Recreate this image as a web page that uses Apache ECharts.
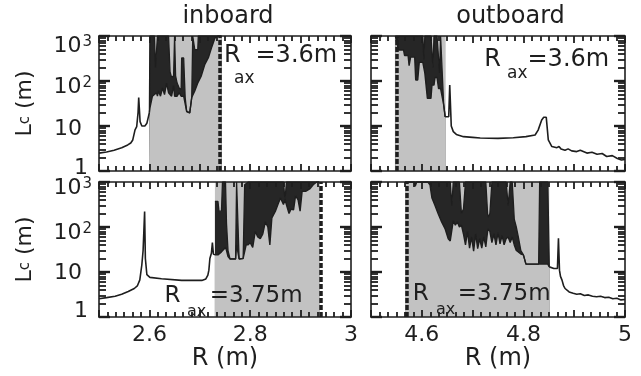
<!DOCTYPE html>
<html>
<head>
<meta charset="utf-8">
<script src="https://cdn.jsdelivr.net/npm/echarts@6/dist/echarts.min.js"></script>
<style>
  html, body { margin: 0; padding: 0; background: #fff; }
  #chart { width: 641px; height: 376px; }
</style>
</head>
<body>
<div id="chart"></div>
<script>
// connection length Lc (m) against major radius R (m)

// inboard, Rax = 3.6 m
const inTopR = [2.500, 2.515, 2.530, 2.545, 2.557, 2.563, 2.567, 2.5715, 2.5748, 2.5775, 2.5788, 2.5800, 2.5815, 2.585, 2.591, 2.595, 2.598, 2.600];
const inTopLc = [2.5, 2.65, 2.9, 3.3, 3.8, 4.2, 4.9, 8.2, 9.7, 20, 43, 25, 12.5, 10, 10, 11.5, 16, 20];
const inTopStochR = [2.600, 2.601, 2.606, 2.610, 2.612, 2.614, 2.616, 2.618, 2.622, 2.626, 2.630, 2.634, 2.638, 2.641, 2.644, 2.648, 2.650, 2.652, 2.655, 2.659, 2.663, 2.664, 2.668, 2.671, 2.674, 2.680, 2.684, 2.686, 2.690, 2.696, 2.697, 2.703, 2.710, 2.717, 2.724, 2.730, 2.736, 2.743];
const inTopStochMax = [20, 1000, 1000, 1000, 200, 200, 1000, 1000, 1000, 1000, 1000, 1000, 1000, 160, 120, 130, 1000, 130, 90, 70, 64, 325, 325, 43, 21, 19.5, 43, 1000, 500, 500, 1000, 1000, 1000, 1000, 1000, 1000, 1000, 1000];
const inTopStochMin = [20, 25, 46, 50, 46, 55, 46, 60, 46, 70, 50, 90, 55, 60, 46, 80, 46, 50, 46, 55, 46, 46, 46, 43, 21, 19.5, 43, 45, 60, 90, 94, 130, 235, 330, 580, 900, 1000, 1000];

// outboard, Rax = 3.6 m
const outTopStochR = [4.548, 4.554, 4.564, 4.566, 4.573, 4.575, 4.578, 4.580, 4.586, 4.588, 4.592, 4.595, 4.597, 4.602, 4.604, 4.606, 4.609, 4.611, 4.618, 4.620, 4.622, 4.624, 4.626, 4.630, 4.633, 4.635, 4.637, 4.640, 4.643, 4.646];
const outTopStochMax = [1000, 1000, 1000, 1000, 1000, 1000, 1000, 1000, 1000, 1000, 1000, 1000, 1000, 1000, 300, 1000, 1000, 1000, 1000, 1000, 200, 1000, 1000, 1000, 1000, 150, 1000, 1000, 30, 16];
const outTopStochMin = [1000, 490, 490, 370, 370, 220, 340, 340, 340, 105, 105, 260, 260, 260, 260, 150, 150, 41, 41, 81, 81, 81, 120, 120, 68, 68, 68, 68, 30, 16];
const outTopR = [4.646, 4.653, 4.655, 4.658, 4.662, 4.668, 4.682, 4.700, 4.715, 4.750, 4.780, 4.805, 4.823, 4.829, 4.836, 4.840, 4.845, 4.849, 4.856, 4.866, 4.870, 4.874, 4.882, 4.888, 4.895, 4.905, 4.912, 4.925, 4.935, 4.945, 4.955, 4.964, 4.975, 4.985, 4.993, 5.000];
const outTopLc = [16, 16, 81, 10, 7.5, 6.5, 5.8, 5.6, 5.4, 5.3, 5.5, 5.8, 6.3, 8.1, 13.6, 15.6, 15.6, 4.9, 3.5, 3.3, 3.5, 3.1, 2.9, 3.1, 2.8, 2.7, 2.9, 2.5, 2.6, 2.35, 2.45, 2.1, 2.2, 1.9, 1.75, 1.8];

// inboard, Rax = 3.75 m
const inBotR = [2.500, 2.515, 2.532, 2.545, 2.558, 2.570, 2.576, 2.581, 2.585, 2.5875, 2.589, 2.5905, 2.592, 2.595, 2.601, 2.624, 2.664, 2.704, 2.712, 2.716, 2.718, 2.720, 2.723, 2.725, 2.727, 2.730];
const inBotLc = [2.55, 2.7, 2.9, 3.2, 3.7, 4.3, 4.9, 6.7, 14.5, 30, 80, 220, 20, 8.7, 7.6, 7.1, 6.5, 6.5, 7.0, 8.5, 11, 20, 26, 45, 25, 24];
const inBotStochR = [2.730, 2.736, 2.738, 2.743, 2.745, 2.751, 2.753, 2.756, 2.760, 2.771, 2.773, 2.776, 2.778, 2.786, 2.789, 2.792, 2.796, 2.800, 2.805, 2.810, 2.815, 2.820, 2.825, 2.830, 2.835, 2.839, 2.843, 2.850, 2.855, 2.860, 2.866, 2.869, 2.872, 2.877, 2.881, 2.886, 2.890, 2.895, 2.899, 2.903, 2.910, 2.918, 2.925, 2.932, 2.937];
const inBotStochMax = [370, 370, 225, 225, 1000, 1000, 120, 30, 19.5, 19.5, 1000, 1000, 19.5, 20, 870, 870, 1000, 1000, 1000, 1000, 1000, 1000, 1000, 1000, 1000, 1000, 1000, 1000, 1000, 1000, 1000, 400, 1000, 1000, 1000, 1000, 1000, 1000, 1000, 1000, 1000, 1000, 1000, 1000, 1000];
const inBotStochMin = [24, 24, 25, 28, 30, 35, 30, 22, 19.5, 19.5, 40, 40, 19.5, 20, 22, 40, 40, 45, 35, 80, 60, 55, 70, 130, 100, 40, 160, 225, 315, 440, 315, 400, 400, 200, 250, 240, 500, 400, 225, 620, 620, 700, 870, 1000, 1000];

// outboard, Rax = 3.75 m
const outBotStochR = [4.567, 4.585, 4.587, 4.590, 4.612, 4.616, 4.620, 4.626, 4.632, 4.639, 4.646, 4.652, 4.656, 4.659, 4.662, 4.666, 4.670, 4.674, 4.678, 4.682, 4.686, 4.690, 4.694, 4.698, 4.702, 4.706, 4.710, 4.714, 4.718, 4.722, 4.726, 4.730, 4.734, 4.738, 4.742, 4.746, 4.750, 4.754, 4.758, 4.762, 4.766, 4.770, 4.774, 4.778, 4.782, 4.786, 4.790, 4.795, 4.800, 4.805, 4.815, 4.825, 4.830, 4.832, 4.838, 4.844, 4.848, 4.851];
const outBotStochMax = [1000, 1000, 1000, 1000, 1000, 1000, 1000, 1000, 1000, 1000, 1000, 1000, 1000, 300, 1000, 1000, 1000, 1000, 200, 250, 1000, 1000, 1000, 1000, 1000, 1000, 1000, 1000, 1000, 1000, 1000, 160, 200, 1000, 1000, 1000, 1000, 1000, 1000, 1000, 1000, 300, 1000, 1000, 150, 100, 60, 30, 24, 15, 15, 15, 15, 1000, 1000, 1000, 1000, 13];
const outBotStochMin = [1000, 1000, 800, 1000, 1000, 870, 440, 300, 200, 130, 90, 55, 49, 49, 140, 110, 130, 100, 110, 70, 40, 80, 34, 60, 29, 70, 33, 55, 34, 60, 36, 90, 80, 45, 70, 40, 75, 42, 65, 40, 55, 60, 45, 60, 40, 30, 28, 25, 24, 15, 15, 15, 15, 15, 15, 15, 15, 13];
const outBotR = [4.851, 4.860, 4.867, 4.869, 4.871, 4.873, 4.876, 4.879, 4.882, 4.890, 4.898, 4.905, 4.912, 4.920, 4.928, 4.936, 4.944, 4.952, 4.960, 4.968, 4.976, 4.984, 4.992, 5.000];
const outBotLc = [13, 12, 12, 56, 11, 8, 6.6, 5, 4.3, 3.6, 3.36, 3.2, 3.3, 3.0, 3.1, 2.9, 2.83, 2.9, 2.7, 2.75, 2.55, 2.6, 2.4, 2.45];

// stochastic (shaded) band and the dashed boundary, panel order: in/out top, in/out bottom
const shadeFrom = [2.600, 4.547, 2.730, 4.567];
const shadeTo = [2.743, 4.647, 2.937, 4.851];
const dashAt = [2.743, 4.548, 2.937, 4.567];
const raxText = ['=3.6m', '=3.6m', '=3.75m', '=3.75m'];

// ticks
const xLabelsIn = [2.6, 2.8, 3];
const xLabelsOut = [4.6, 4.8, 5];
const yDecades = [1, 10, 100, 1000];
const yDecadeText = ['1', '10', '10', '10'];
const yDecadeSup = ['', '', '2', '3'];
const yMinor = [2, 3, 4, 5, 6, 7, 8, 9, 20, 30, 40, 50, 60, 70, 80, 90, 200, 300, 400, 500, 600, 700, 800, 900];

const FONT = 'DejaVu Sans';
const INK = '#1e1e1e';
const SHADE = '#c2c2c2';

const curveR = [inTopR, outTopR, inBotR, outBotR];
const curveLc = [inTopLc, outTopLc, inBotLc, outBotLc];
const stochR = [inTopStochR, outTopStochR, inBotStochR, outBotStochR];
const stochMax = [inTopStochMax, outTopStochMax, inBotStochMax, outBotStochMax];
const stochMin = [inTopStochMin, outTopStochMin, inBotStochMin, outBotStochMin];

const grids = [
  { left: 99, top: 36, width: 252, height: 135 },
  { left: 371, top: 36, width: 254, height: 135 },
  { left: 99, top: 182, width: 252, height: 135 },
  { left: 371, top: 182, width: 254, height: 135 },
];
const xRange = [[2.5, 3], [4.5, 5], [2.5, 3], [4.5, 5]];
// label nudges (px, + = down) to match the original lettering
const labelShift = [[-2.5, 3, 6.5, 10.5], null, [-5.5, 1.5, 6.5, 6], null];
const labelInset = [4, 10, 0, 0];

function pairs(xs, ys) {
  return xs.map((x, k) => [x, ys[k]]);
}

function yRich(shifts) {
  const rich = {};
  shifts.forEach((d, k) => {
    rich['m' + k] = {
      fontFamily: FONT, fontSize: 22, color: INK,
      padding: [Math.max(0, 2 * d), labelInset[k], Math.max(0, -2 * d), 0],
    };
    const ds = d - 4;
    rich['s' + k] = {
      fontFamily: FONT, fontSize: 15, color: INK,
      padding: [Math.max(0, 2 * ds), 0, Math.max(0, -2 * ds), 1],
    };
  });
  return rich;
}

const axisLine = { show: true, onZero: false, lineStyle: { color: INK, width: 1.6 } };
const tickStyle = { color: INK, width: 1.8 };

const xAxis = [];
const yAxis = [];
const series = [];

for (let i = 0; i < 4; i++) {
  ['bottom', 'top'].forEach((pos) => {
    const labelled = pos === 'bottom' && i >= 2;
    xAxis.push({
      type: 'value', gridIndex: i, position: pos, z: 10,
      min: xRange[i][0], max: xRange[i][1], interval: 0.1,
      axisLine: axisLine,
      axisTick: { show: true, inside: true, length: 7, lineStyle: tickStyle },
      minorTick: { show: true, splitNumber: 6, length: 5, lineStyle: tickStyle },
      splitLine: { show: false },
      axisLabel: {
        show: labelled, customValues: i % 2 ? xLabelsOut : xLabelsIn,
        margin: 7, color: INK, fontFamily: FONT, fontSize: 22,
        formatter: (v) => String(v),
      },
      name: labelled ? 'R (m)' : '',
      nameLocation: 'middle', nameGap: 29,
      nameTextStyle: { color: INK, fontFamily: FONT, fontSize: 24 },
    });
  });

  ['left', 'right'].forEach((pos) => {
    const labelled = pos === 'left' && i % 2 === 0;
    yAxis.push({
      type: 'log', logBase: 10, gridIndex: i, position: pos, z: 10,
      min: 1, max: 1000,
      axisLine: axisLine,
      axisTick: { show: true, inside: true, length: 11, customValues: yDecades, lineStyle: { color: INK, width: 2.4 } },
      splitLine: { show: false },
      axisLabel: labelled ? {
        show: true, customValues: yDecades, margin: 7,
        formatter: (v) => {
          const k = yDecades.indexOf(v);
          return '{m' + k + '|' + yDecadeText[k] + '}' + (yDecadeSup[k] ? '{s' + k + '|' + yDecadeSup[k] + '}' : '');
        },
        rich: yRich(labelShift[i]),
      } : { show: false },
      name: labelled ? '{L|L}{c|c}{r| (m)}' : '',
      nameLocation: 'middle', nameRotate: 90, nameGap: 63,
      nameTextStyle: {
        color: INK,
        rich: {
          L: { fontFamily: FONT, fontSize: 22, color: INK },
          c: { fontFamily: FONT, fontSize: 15, color: INK },
          r: { fontFamily: FONT, fontSize: 22, color: INK },
        },
      },
    });
    // minor decade ticks, placed on a linear log10 scale spanning the same range
    yAxis.push({
      type: 'value', gridIndex: i, position: pos, z: 10,
      min: 0, max: 3,
      axisLine: { show: false },
      axisTick: { show: true, inside: true, length: 7, customValues: yMinor.map(Math.log10), lineStyle: tickStyle },
      splitLine: { show: false },
      axisLabel: { show: false },
    });
  });

  series.push({
    type: 'line', xAxisIndex: 2 * i, yAxisIndex: 4 * i, z: 3,
    data: pairs(curveR[i], curveLc[i]),
    showSymbol: false, lineStyle: { color: INK, width: 1.6 },
    markArea: {
      silent: true, itemStyle: { color: SHADE, opacity: 1 },
      data: [[{ xAxis: shadeFrom[i] }, { xAxis: shadeTo[i] }]],
    },
  });
  series.push({
    type: 'line', xAxisIndex: 2 * i, yAxisIndex: 4 * i, z: 3,
    data: pairs(stochR[i], stochMax[i]),
    showSymbol: false, lineStyle: { color: INK, width: 1.3 },
    areaStyle: { color: '#262626', opacity: 1, origin: 'start' },
  });
  series.push({
    type: 'line', xAxisIndex: 2 * i, yAxisIndex: 4 * i, z: 3,
    data: pairs(stochR[i], stochMin[i]),
    showSymbol: false, lineStyle: { color: INK, width: 1.4 },
    areaStyle: { color: SHADE, opacity: 1, origin: 'start' },
    markLine: {
      silent: true, symbol: ['none', 'none'], label: { show: false },
      lineStyle: { color: INK, width: 3.5, type: [5, 2] },
      data: [{ xAxis: dashAt[i] }],
    },
  });
}

function txt(x, y, text, size, align) {
  return {
    type: 'text', x: x, y: y, z: 20,
    style: { text: text, fontFamily: FONT, fontSize: size, fill: INK, align: align || 'left', verticalAlign: 'middle' },
  };
}

// "R_ax = ..." notes: [R x, R y, ax x, ax y, value x, size]
const notePos = [
  [224, 56, 234, 79, 255.5, 24],
  [484.3, 60, 507, 74, 527.5, 24],
  [164.6, 296.5, 187, 312, 209.7, 23],
  [412.7, 294, 436, 310, 457.7, 23],
];
const graphic = [txt(228, 17, 'inboard', 24, 'center'), txt(510.5, 17, 'outboard', 24, 'center')];
notePos.forEach((p, i) => {
  graphic.push(txt(p[0], p[1], 'R', p[5]));
  graphic.push(txt(p[2], p[3], 'ax', p[5] - 7));
  graphic.push(txt(p[4], p[1], raxText[i], p[5]));
});

const chart = echarts.init(document.getElementById('chart'));
chart.setOption({
  animation: false,
  backgroundColor: '#fff',
  textStyle: { fontFamily: FONT },
  grid: grids,
  xAxis: xAxis,
  yAxis: yAxis,
  series: series,
  graphic: graphic,
});
</script>
</body>
</html>
